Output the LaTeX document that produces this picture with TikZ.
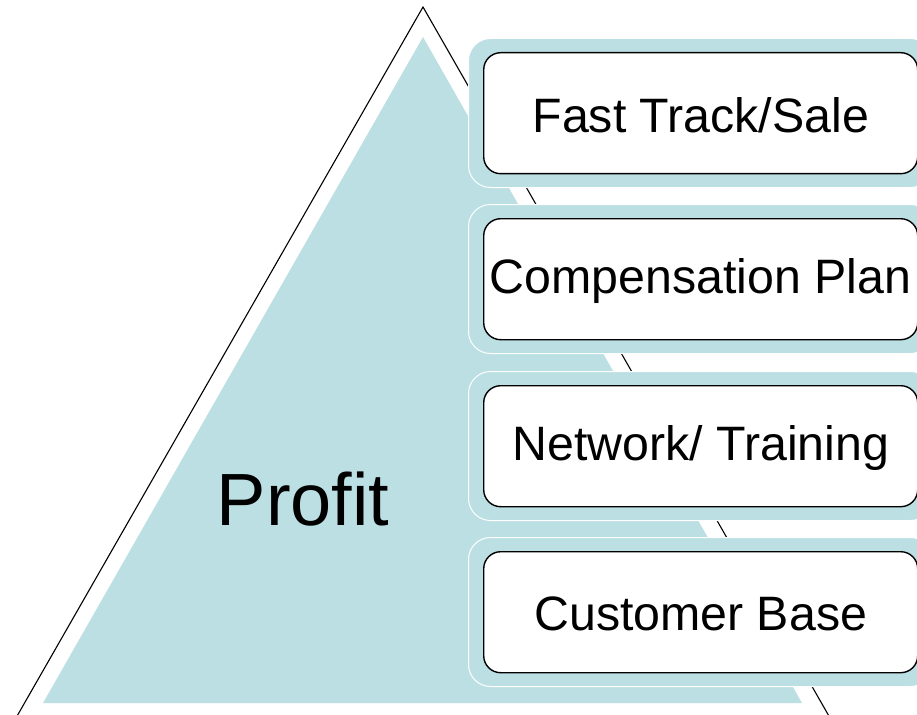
\documentclass[tikz,border=0pt]{standalone}
\usepackage{fontspec}
\setmainfont{Liberation Sans}
\definecolor{tealfill}{RGB}{187,223,227}
\tikzset{
  cardback/.style={fill=tealfill, draw=white, line width=1pt, rounded corners=22pt,
    minimum width=464pt, minimum height=149pt, inner sep=0pt, anchor=north west},
  cardbox/.style={fill=white, draw=black, line width=1.4pt, rounded corners=17pt,
    minimum width=434pt, minimum height=121pt, inner sep=0pt, anchor=north west},
  cardtext/.style={font=\fontsize{48.3}{58}\selectfont, anchor=center},
  outline/.style={draw=black, line width=1.1pt}
}
\begin{document}
\begin{tikzpicture}[x=1pt,y=-1pt]
\useasboundingbox (0,0) rectangle (917,714);
\clip (0,0) rectangle (917,714);
\fill[white] (0,0) rectangle (917,714);
% outer outline triangle
\draw[outline] (-31,800) -- (423,7) -- (877,800);
% inner filled triangle
\fill[tealfill] (43,703) -- (423,37) -- (802,703) -- cycle;
\node[font=\fontsize{74}{86}\selectfont] (profit) at (303,499) {Profit};
% cards
\foreach \i/\t/\txt in {1/52/{Fast Track/Sale}, 2/218/{Compensation Plan}, 3/385/{Network/ Training}, 4/551/{Customer Base}}{
  \node[cardback] (back\i) at (468,\t-14) {};
  \node[cardbox] (box\i) at (483,\t) {};
  \node[cardtext] (label\i) at ([xshift=0pt,yshift=-2pt]box\i.center) {\txt};
}
\end{tikzpicture}
\end{document}
